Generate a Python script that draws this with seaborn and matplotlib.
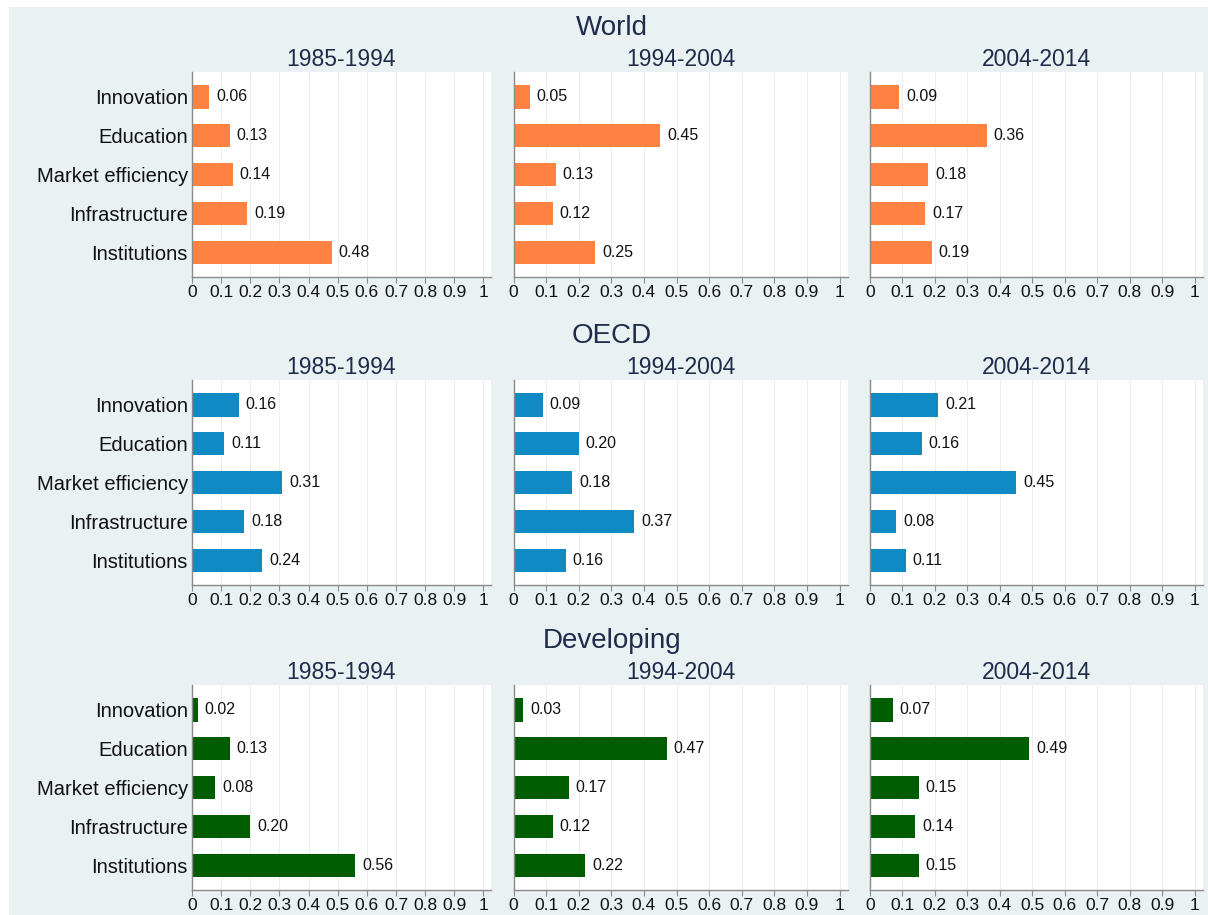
import matplotlib
matplotlib.use("Agg")
import matplotlib.pyplot as plt
from matplotlib.patches import Rectangle
import seaborn as sns
import pandas as pd

categories = ["Innovation", "Education", "Market efficiency", "Infrastructure", "Institutions"]
periods = ["1985-1994", "1994-2004", "2004-2014"]
groups = ["World", "OECD", "Developing"]

world_1985 = [0.06, 0.13, 0.14, 0.19, 0.48]
world_1994 = [0.05, 0.45, 0.13, 0.12, 0.25]
world_2004 = [0.09, 0.36, 0.18, 0.17, 0.19]

oecd_1985 = [0.16, 0.11, 0.31, 0.18, 0.24]
oecd_1994 = [0.09, 0.20, 0.18, 0.37, 0.16]
oecd_2004 = [0.21, 0.16, 0.45, 0.08, 0.11]

dev_1985 = [0.02, 0.13, 0.08, 0.20, 0.56]
dev_1994 = [0.03, 0.47, 0.17, 0.12, 0.22]
dev_2004 = [0.07, 0.49, 0.15, 0.14, 0.15]

xticks = [0, 0.1, 0.2, 0.3, 0.4, 0.5, 0.6, 0.7, 0.8, 0.9, 1]
xticklabels = ["0", "0.1", "0.2", "0.3", "0.4", "0.5", "0.6", "0.7", "0.8", "0.9", "1"]

data = {
    "World": [world_1985, world_1994, world_2004],
    "OECD": [oecd_1985, oecd_1994, oecd_2004],
    "Developing": [dev_1985, dev_1994, dev_2004],
}
colors = {"World": "#FF8243", "OECD": "#0F8AC3", "Developing": "#005C00"}

sns.set_theme(style="white")
plt.rcParams["font.family"] = ["Liberation Sans", "DejaVu Sans"]

W, H = 1208, 915
fig = plt.figure(figsize=(W / 100, H / 100), dpi=100)
fig.patch.set_facecolor("white")
bg = "#E9F1F3"
fig.patches.append(Rectangle((9 / W, 0), 1 - 9 / W, 1 - 7 / H, transform=fig.transFigure,
                             facecolor=bg, edgecolor="none", zorder=-10))

cols_px = [(192, 491), (513.5, 848), (870, 1203)]
rows_px = [(72, 277), (380, 585), (685, 890)]
group_title_y = [28, 336, 641]
period_title_y = [59, 367, 671]
title_color = "#1E2B4A"

for r, g in enumerate(groups):
    fig.text(612 / W, 1 - group_title_y[r] / H, g, ha="center", va="center",
             fontsize=20, color=title_color)
    for c, p in enumerate(periods):
        x0, x1 = cols_px[c]
        y0, y1 = rows_px[r]
        ax = fig.add_axes([x0 / W, 1 - y1 / H, (x1 - x0) / W, (y1 - y0) / H])
        ax.set_facecolor("white")
        df = pd.DataFrame({"category": categories, "value": data[g][c]})
        sns.barplot(data=df, x="value", y="category", orient="h", ax=ax,
                    color=colors[g], width=0.6, saturation=1, edgecolor="none")
        ax.bar_label(ax.containers[0], fmt="%.2f", padding=5, fontsize=11.5, color="#111111")
        ax.set_xlim(0, 1.026)
        ax.set_ylim(4.63, -0.64)
        ax.set_xticks(xticks)
        ax.set_xticklabels(xticklabels)
        ax.grid(axis="x", color="#EDEDED", linewidth=0.8)
        ax.set_axisbelow(True)
        ax.set_xlabel("")
        ax.set_ylabel("")
        for s in ["top", "right"]:
            ax.spines[s].set_visible(False)
        for s in ["left", "bottom"]:
            ax.spines[s].set_color("#8A8A8A")
            ax.spines[s].set_linewidth(1.0)
        ax.tick_params(axis="x", bottom=True, length=4, width=0.8, color="#8A8A8A",
                       labelsize=12.5, labelcolor="#111111", pad=2)
        ax.tick_params(axis="y", left=False, length=0, pad=3, labelsize=14.5, labelcolor="#111111")
        if c > 0:
            ax.set_yticklabels([])
        ax.set_title(p, fontsize=16.5, color=title_color, pad=4)

fig.savefig("out.png", dpi=100, facecolor=fig.get_facecolor())
